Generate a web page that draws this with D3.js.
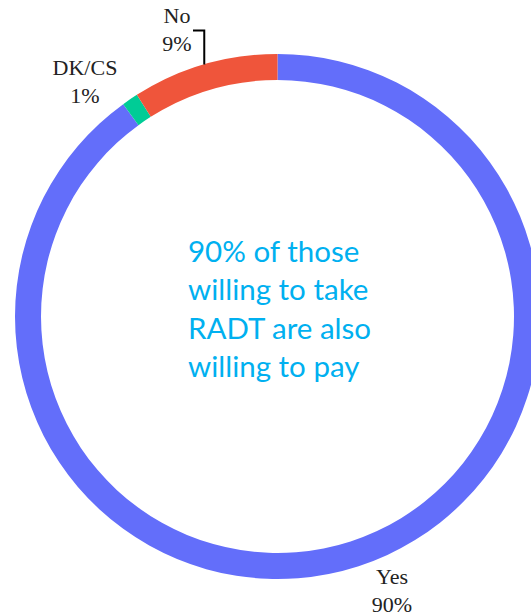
<!DOCTYPE html>
<html>
<head>
<meta charset="utf-8">
<script src="https://cdn.jsdelivr.net/npm/d3@7"></script>
<style>
  html, body { margin: 0; padding: 0; background: #fff; }
  svg { display: block; }
</style>
</head>
<body>
<svg id="chart" width="531" height="616"></svg>
<script>
// Answers to "willing to pay" among those willing to take RADT
const categories = ["Yes", "DK/CS", "No"];
const values = [90, 1, 9];
const colors = ["#636EFA", "#00CC96", "#EF553B"];
const pctLabels = ["90%", "1%", "9%"];
const noteLines = ["90% of those", "willing to take", "RADT are also", "willing to pay"];

const svg = d3.select("#chart");
const cx = 277.5, cy = 316.5;
const outerR = 262.5, innerR = 236.5;

const pie = d3.pie().sort(null).value(d => d.value);
const arcs = pie(categories.map((c, i) => ({ cat: c, value: values[i], color: colors[i], pct: pctLabels[i] })));
const arc = d3.arc().innerRadius(innerR).outerRadius(outerR);

const g = svg.append("g").attr("transform", `translate(${cx},${cy})`);
g.selectAll("path.slice")
  .data(arcs)
  .join("path")
  .attr("class", "slice")
  .attr("d", arc)
  .attr("fill", d => d.data.color);

// Outside labels, serif
const labelFont = "'Liberation Serif', 'Times New Roman', serif";
function label(x, y, lines) {
  const t = svg.append("text")
    .attr("text-anchor", "middle")
    .attr("font-family", labelFont)
    .attr("font-size", 22)
    .attr("fill", "#222");
  lines.forEach((s, i) => t.append("tspan").attr("x", x).attr("y", y + i * 27.5).text(s));
}
const byCat = Object.fromEntries(arcs.map(a => [a.data.cat, a]));

// "No" label with bracket leader to the ring
const noArc = byCat["No"];
const noAngle = (noArc.startAngle + noArc.endAngle) / 2;
const noTip = [cx + outerR * Math.sin(noAngle), cy - outerR * Math.cos(noAngle)];
label(177, 23, [noArc.data.cat, noArc.data.pct]);
svg.append("path")
  .attr("d", `M193,30.5 H${noTip[0]} V${noTip[1]}`)
  .attr("fill", "none")
  .attr("stroke", "#000")
  .attr("stroke-width", 2);

label(85, 75, [byCat["DK/CS"].data.cat, byCat["DK/CS"].data.pct]);
label(392, 584, [byCat["Yes"].data.cat, byCat["Yes"].data.pct]);

// Centre note
const note = svg.append("text")
  .attr("font-family", "Lato, 'Open Sans', sans-serif")
  .attr("font-size", 29.5)
  .attr("fill", "#00B0F0");
noteLines.forEach((s, i) => note.append("tspan").attr("x", 188).attr("y", 262 + i * 38.3).text(s));
</script>
</body>
</html>
